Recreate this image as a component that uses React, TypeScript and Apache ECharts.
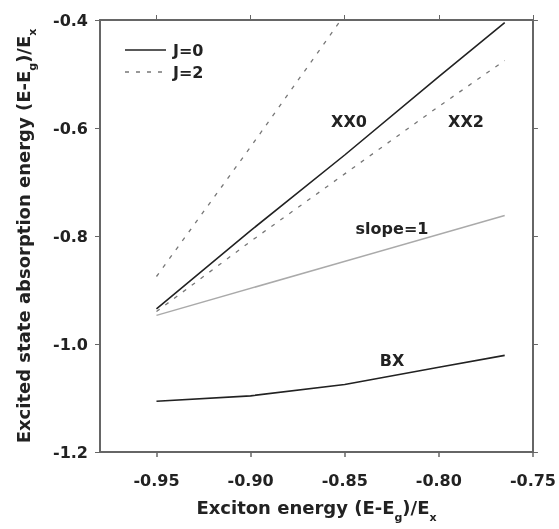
import React, { useEffect, useRef } from "react";
import * as echarts from "echarts";

const xTicks = [-0.95, -0.9, -0.85, -0.8, -0.75];

const xx0X = [-0.95, -0.9, -0.85, -0.8, -0.765];
const xx0Y = [-0.935, -0.79, -0.65, -0.505, -0.405];

const xx2X = [-0.95, -0.9, -0.85, -0.8, -0.765];
const xx2Y = [-0.94, -0.81, -0.685, -0.56, -0.475];

const steepX = [-0.95, -0.9, -0.852];
const steepY = [-0.875, -0.635, -0.4];

const slopeX = [-0.95, -0.765];
const slopeY = [-0.947, -0.762];

const bxX = [-0.95, -0.9, -0.85, -0.8, -0.765];
const bxY = [-1.106, -1.096, -1.075, -1.043, -1.021];

const legendNames = ["J=0", "J=2"];
const curveLabels = ["XX0", "XX2", "slope=1", "BX"];

const zip = (xs: number[], ys: number[]) => xs.map((x, i) => [x, ys[i]]);

const FONT = "'DejaVu Sans', Verdana, sans-serif";
const AXIS_COLOR = "#666";
const TEXT = "#222";

export default function App() {
  const ref = useRef<HTMLDivElement>(null);
  useEffect(() => {
    if (!ref.current) return;
    const chart = echarts.init(ref.current, null, { renderer: "svg" });
    const labelStyle = { fontFamily: FONT, fontSize: 16, fontWeight: "bold" as const, color: TEXT };
    const sub = {
      fontFamily: FONT,
      fontSize: 11,
      fontWeight: "bold" as const,
      color: TEXT,
      lineHeight: 30,
      verticalAlign: "bottom" as const,
    };
    const nameStyle = {
      fontFamily: FONT,
      fontSize: 18,
      fontWeight: "bold" as const,
      color: TEXT,
      lineHeight: 22,
      rich: { sub },
    };
    const solid = { color: "#222", width: 1.6, type: "solid" as const };
    const dashed = { color: "#777", width: 1.3, type: [4, 7] as any };
    const lblFont = `bold 16px ${FONT}`;
    chart.setOption({
      animation: false,
      grid: { left: 100, right: 24, top: 20, bottom: 77 },
      xAxis: [
        {
          type: "value",
          min: -0.98,
          max: -0.75,
          position: "bottom",
          splitLine: { show: false },
          axisLine: { lineStyle: { color: AXIS_COLOR, width: 2 } },
          axisTick: { customValues: xTicks, length: 5, lineStyle: { color: AXIS_COLOR, width: 1.5 } },
          axisLabel: {
            customValues: xTicks,
            margin: 20,
            formatter: (v: number) => v.toFixed(2),
            ...labelStyle,
          },
          name: "Exciton energy (E-E{sub|g})/E{sub|x}",
          nameLocation: "middle",
          nameGap: 40,
          nameTextStyle: nameStyle,
        },
        {
          type: "value",
          min: -0.98,
          max: -0.75,
          position: "top",
          splitLine: { show: false },
          axisLine: { lineStyle: { color: AXIS_COLOR, width: 2 } },
          axisTick: { customValues: xTicks, length: 5, lineStyle: { color: AXIS_COLOR, width: 1 } },
          axisLabel: { show: false },
        },
      ],
      yAxis: [
        {
          type: "value",
          min: -1.2,
          max: -0.4,
          interval: 0.2,
          position: "left",
          splitLine: { show: false },
          axisLine: { lineStyle: { color: AXIS_COLOR, width: 2 } },
          axisTick: { length: 5, lineStyle: { color: AXIS_COLOR, width: 1 } },
          axisLabel: {
            margin: 12,
            formatter: (v: number) => v.toFixed(1),
            ...labelStyle,
          },
          name: "Excited state absorption energy (E-E{sub|g})/E{sub|x}",
          nameLocation: "middle",
          nameRotate: 90,
          nameGap: 62,
          nameTextStyle: nameStyle,
        },
        {
          type: "value",
          min: -1.2,
          max: -0.4,
          interval: 0.2,
          position: "right",
          splitLine: { show: false },
          axisLine: { lineStyle: { color: AXIS_COLOR, width: 2 } },
          axisTick: { length: 5, lineStyle: { color: AXIS_COLOR, width: 1 } },
          axisLabel: { show: false },
        },
      ],
      series: [
        { name: "XX0", type: "line", data: zip(xx0X, xx0Y), symbol: "none", lineStyle: solid },
        { name: "J=2 steep", type: "line", data: zip(steepX, steepY), symbol: "none", lineStyle: dashed },
        { name: "XX2", type: "line", data: zip(xx2X, xx2Y), symbol: "none", lineStyle: dashed },
        { name: "slope=1", type: "line", data: zip(slopeX, slopeY), symbol: "none", lineStyle: { color: "#aaa", width: 1.5 } },
        { name: "BX", type: "line", data: zip(bxX, bxY), symbol: "none", lineStyle: solid },
      ],
      graphic: [
        { type: "line", shape: { x1: 125, y1: 50, x2: 166, y2: 50 }, style: { stroke: "#222", lineWidth: 1.6 } },
        { type: "line", shape: { x1: 125, y1: 72, x2: 166, y2: 72 }, style: { stroke: "#777", lineWidth: 1.3, lineDash: [4, 7] } },
        { type: "text", x: 173, y: 50, style: { text: legendNames[0], font: lblFont, fill: TEXT, verticalAlign: "middle" } },
        { type: "text", x: 173, y: 72, style: { text: legendNames[1], font: lblFont, fill: TEXT, verticalAlign: "middle" } },
        { type: "text", x: 349, y: 121, style: { text: curveLabels[0], font: lblFont, fill: TEXT, align: "center", verticalAlign: "middle" } },
        { type: "text", x: 466, y: 121, style: { text: curveLabels[1], font: lblFont, fill: TEXT, align: "center", verticalAlign: "middle" } },
        { type: "text", x: 392, y: 228, style: { text: curveLabels[2], font: lblFont, fill: TEXT, align: "center", verticalAlign: "middle" } },
        { type: "text", x: 392, y: 360, style: { text: curveLabels[3], font: lblFont, fill: TEXT, align: "center", verticalAlign: "middle" } },
      ],
    });
    return () => chart.dispose();
  }, []);
  return <div ref={ref} style={{ position: "fixed", left: 0, top: 0, width: 559, height: 529 }} />;
}
